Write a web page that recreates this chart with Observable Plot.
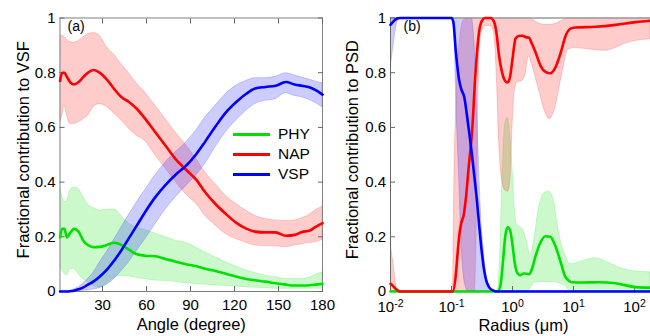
<!DOCTYPE html>
<html>
<head>
<meta charset="utf-8">
<script src="https://cdn.jsdelivr.net/npm/d3@7"></script>
<script src="https://cdn.jsdelivr.net/npm/@observablehq/plot@0.6"></script>
<style>
  html, body { margin: 0; padding: 0; background: #fff; }
  #wrap { position: relative; width: 650px; height: 336px; overflow: hidden; background: #fff; font-family: "Liberation Sans", Arial, sans-serif; }
  #pa { position: absolute; left: 0; top: 0; }
  #pb { position: absolute; left: 330px; top: 0; }
  #legend { position: absolute; left: 233px; top: 124px; font-size: 15.5px; color: #000; }
  .row { display: flex; align-items: center; height: 20px; }
  .sw { width: 37px; height: 0; border-top: 3px solid; margin-right: 8px; }
</style>
</head>
<body>
<div id="wrap"><div id="pb"></div><div id="pa"></div><div id="legend"></div></div>
<script>
// ---------- shared ----------
const seriesNames = ["PHY", "NAP", "VSP"];
const seriesColors = ["#00e000", "#ff0000", "#0000ff"];
const yTicks = [0, 0.2, 0.4, 0.6, 0.8, 1];
const angleTicks = [30, 60, 90, 120, 150, 180];
const radiusTicks = [0.01, 0.1, 1, 10, 100];
const radiusMax = 182.8;
const panelLabels = ["(a)", "(b)"];
const xLabelA = "Angle (degree)";
const yLabelA = "Fractional contribution to VSF";
const xLabelB = "Radius (\u03bcm)";
const yLabelB = "Fractional contribution to PSD";

// ---------- panel (a): VSF vs angle ----------
const angle = [1, 2.5, 4, 5.7, 8, 10.5, 13.5, 17, 20, 24, 28, 33, 38, 43, 48, 53, 59, 66, 73, 80, 87, 94, 100, 107, 114, 121, 128, 134, 141, 148, 155, 161, 166, 171, 175, 180];
const phyMeanA = [0.198, 0.229, 0.229, 0.198, 0.215, 0.229, 0.22, 0.185, 0.17, 0.162, 0.163, 0.17, 0.178, 0.17, 0.153, 0.137, 0.131, 0.129, 0.119, 0.109, 0.1, 0.092, 0.083, 0.075, 0.065, 0.055, 0.046, 0.041, 0.036, 0.03, 0.025, 0.022, 0.022, 0.023, 0.025, 0.028];
const phyLoA = [0.085, 0.08, 0.065, 0.06, 0.08, 0.083, 0.065, 0.045, 0.034, 0.02, 0.015, 0.03, 0.05, 0.058, 0.055, 0.05, 0.045, 0.04, 0.038, 0.035, 0.03, 0.027, 0.025, 0.022, 0.02, 0.018, 0.015, 0.014, 0.012, 0.01, 0.01, 0.01, 0.01, 0.01, 0.01, 0.01];
const phyHiA = [0.38, 0.35, 0.326, 0.33, 0.37, 0.38, 0.375, 0.345, 0.318, 0.305, 0.296, 0.3, 0.3, 0.275, 0.248, 0.235, 0.225, 0.212, 0.198, 0.186, 0.178, 0.16, 0.143, 0.125, 0.107, 0.092, 0.077, 0.068, 0.058, 0.052, 0.046, 0.046, 0.046, 0.05, 0.06, 0.07];
const napMeanA = [0.77, 0.8, 0.8, 0.785, 0.765, 0.757, 0.765, 0.785, 0.8, 0.81, 0.8, 0.775, 0.74, 0.71, 0.693, 0.67, 0.632, 0.582, 0.533, 0.483, 0.445, 0.408, 0.363, 0.32, 0.284, 0.252, 0.23, 0.219, 0.216, 0.216, 0.204, 0.207, 0.218, 0.222, 0.235, 0.25];
const napLoA = [0.618, 0.64, 0.68, 0.645, 0.612, 0.612, 0.618, 0.63, 0.642, 0.675, 0.685, 0.675, 0.65, 0.625, 0.595, 0.57, 0.55, 0.498, 0.45, 0.4, 0.355, 0.32, 0.277, 0.241, 0.21, 0.192, 0.178, 0.168, 0.166, 0.165, 0.162, 0.168, 0.173, 0.177, 0.18, 0.188];
const napHiA = [0.93, 0.935, 0.93, 0.92, 0.912, 0.91, 0.915, 0.93, 0.94, 0.945, 0.935, 0.893, 0.865, 0.83, 0.798, 0.762, 0.728, 0.679, 0.63, 0.58, 0.535, 0.484, 0.435, 0.393, 0.35, 0.32, 0.295, 0.277, 0.265, 0.26, 0.258, 0.26, 0.268, 0.28, 0.296, 0.31];
const vspMeanA = [0, 0, 0, 0, 0.001, 0.003, 0.008, 0.015, 0.025, 0.037, 0.054, 0.08, 0.113, 0.152, 0.195, 0.238, 0.29, 0.345, 0.39, 0.428, 0.46, 0.503, 0.548, 0.603, 0.654, 0.692, 0.723, 0.742, 0.748, 0.752, 0.766, 0.757, 0.752, 0.747, 0.737, 0.72];
const vspLoA = [0, 0, 0, 0, 0, 0, 0.001, 0.003, 0.004, 0.007, 0.012, 0.025, 0.045, 0.075, 0.107, 0.145, 0.19, 0.245, 0.3, 0.345, 0.385, 0.425, 0.466, 0.527, 0.581, 0.624, 0.661, 0.685, 0.697, 0.703, 0.725, 0.715, 0.71, 0.7, 0.69, 0.673];
const vspHiA = [0, 0, 0, 0, 0.003, 0.008, 0.015, 0.03, 0.045, 0.07, 0.105, 0.145, 0.19, 0.235, 0.28, 0.323, 0.37, 0.425, 0.472, 0.51, 0.545, 0.59, 0.636, 0.679, 0.721, 0.752, 0.77, 0.78, 0.78, 0.785, 0.798, 0.79, 0.782, 0.775, 0.768, 0.762];

// ---------- panel (b): PSD vs radius (um) ----------
const phyRadius = [0.01, 0.5623, 0.631, 0.6918, 0.7586, 0.8318, 0.912, 1, 1.096, 1.202, 1.349, 1.549, 1.862, 2.089, 2.399, 2.884, 3.467, 4.169, 5.012, 6.166, 7.413, 9.55, 13.8, 25.7, 48.98, 104.7, 182.8];
const phyMeanB = [0, 0, 0.02, 0.1, 0.2, 0.235, 0.225, 0.17, 0.1, 0.068, 0.06, 0.066, 0.063, 0.083, 0.131, 0.18, 0.202, 0.2, 0.168, 0.107, 0.052, 0.034, 0.033, 0.034, 0.03, 0.016, 0.014];
const phyBandRadius = [0.01, 0.5754, 0.631, 0.6918, 0.7586, 0.8318, 0.912, 1, 1.096, 1.202, 1.445, 1.738, 1.972, 2.239, 2.692, 3.467, 3.981, 4.786, 5.754, 7.413, 8.913, 13.8, 22.91, 38.02, 63.1, 104.7, 182.8];
const phyLoB = [0, 0, 0, 0, 0, 0, 0, 0, 0, 0, 0, 0, 0.01, 0.03, 0.034, 0.034, 0.034, 0.034, 0.03, 0.02, 0, 0, 0, 0, 0, 0, 0];
const phyHiB = [0, 0, 0.15, 0.45, 0.61, 0.635, 0.58, 0.45, 0.3, 0.24, 0.23, 0.18, 0.131, 0.18, 0.302, 0.362, 0.365, 0.33, 0.217, 0.131, 0.1, 0.11, 0.122, 0.104, 0.083, 0.073, 0.07];

const napRadius = [0.01, 0.01122, 0.01259, 0.01413, 0.1047, 0.1175, 0.1259, 0.1349, 0.1445, 0.1585, 0.1738, 0.1905, 0.2188, 0.2455, 0.2818, 0.3162, 0.3548, 0.4365, 0.5012, 0.5495, 0.6026, 0.6761, 0.7586, 0.8318, 0.912, 1, 1.122, 1.259, 1.445, 1.66, 1.862, 2.089, 2.399, 2.884, 3.467, 4.169, 5.012, 6.166, 7.413, 8.913, 10.72, 22.91, 48.98, 104.7, 182.8];
const napMeanB = [0.028, 0.018, 0.007, 0, 0, 0.06, 0.14, 0.21, 0.25, 0.28, 0.35, 0.45, 0.594, 0.788, 0.946, 0.99, 1, 1, 0.985, 0.94, 0.861, 0.8, 0.77, 0.764, 0.785, 0.85, 0.925, 0.934, 0.935, 0.93, 0.928, 0.905, 0.873, 0.825, 0.803, 0.798, 0.818, 0.873, 0.934, 0.961, 0.965, 0.968, 0.975, 0.985, 0.99];
const napBandRadius = [0.01, 0.01122, 0.01318, 0.1047, 0.1122, 0.123, 0.138, 0.1585, 0.182, 0.2399, 0.257, 0.2754, 0.302, 0.3548, 0.4467, 0.5012, 0.5495, 0.6026, 0.6607, 0.7586, 0.8511, 0.9333, 1, 1.072, 1.202, 1.445, 1.622, 1.862, 2.089, 2.692, 3.467, 4.074, 5.012, 6.457, 8.318, 10.72, 17.78, 33.88, 48.98, 79.43, 182.8];
const napLoB = [0, 0, 0, 0, 0, 0, 0, 0, 0, 0, 0.2, 0.7, 0.93, 0.97, 0.97, 0.94, 0.8, 0.55, 0.42, 0.37, 0.365, 0.42, 0.6, 0.72, 0.764, 0.77, 0.79, 0.86, 0.83, 0.74, 0.654, 0.63, 0.67, 0.79, 0.885, 0.89, 0.885, 0.88, 0.89, 0.91, 0.922];
const napHiB = [0.18, 0.1, 0, 0, 0.45, 0.75, 0.92, 0.99, 1, 1, 1, 1, 1, 1, 1, 1, 1, 1, 1, 1, 1, 1, 1, 1, 1, 1, 1, 1, 0.995, 0.98, 0.975, 0.975, 0.978, 0.99, 1, 1, 1, 1, 1, 1, 1];

const vspRadius = [0.01, 0.01175, 0.01413, 0.1, 0.1072, 0.1175, 0.1318, 0.1445, 0.1622, 0.1778, 0.1995, 0.2188, 0.2399, 0.263, 0.2818, 0.302, 0.3388, 0.3715, 0.4074, 0.4677, 0.5623, 182.8];
const vspMeanB = [0.975, 0.993, 1, 1, 0.985, 0.88, 0.78, 0.74, 0.71, 0.65, 0.565, 0.49, 0.41, 0.326, 0.25, 0.18, 0.085, 0.04, 0.018, 0.005, 0, 0];
const vspBandRadius = [0.01, 0.01122, 0.01318, 0.01413, 0.1072, 0.1122, 0.1175, 0.1318, 0.1479, 0.166, 0.1905, 0.2138, 0.2399, 0.2692, 0.302, 0.3388, 0.3802, 0.4365, 0.5012, 182.8];
const vspLoB = [0.81, 0.9, 0.99, 1, 1, 0.95, 0.76, 0.45, 0.15, 0.03, 0, 0, 0, 0, 0, 0, 0, 0, 0, 0];
const vspHiB = [1, 1, 1, 1, 1, 1, 1, 1, 1, 1, 1, 1, 0.9, 0.6, 0.3, 0.15, 0.05, 0.01, 0, 0];

// ---------- tables ----------
const tableA = angle.map((a, i) => ({
  angle: a,
  PHY: {m: phyMeanA[i], lo: phyLoA[i], hi: phyHiA[i]},
  NAP: {m: napMeanA[i], lo: napLoA[i], hi: napHiA[i]},
  VSP: {m: vspMeanA[i], lo: vspLoA[i], hi: vspHiA[i]}
}));
const lineB = {
  PHY: phyRadius.map((r, i) => ({r, v: phyMeanB[i]})),
  NAP: napRadius.map((r, i) => ({r, v: napMeanB[i]})),
  VSP: vspRadius.map((r, i) => ({r, v: vspMeanB[i]}))
};
const bandB = {
  PHY: phyBandRadius.map((r, i) => ({r, lo: phyLoB[i], hi: phyHiB[i]})),
  NAP: napBandRadius.map((r, i) => ({r, lo: napLoB[i], hi: napHiB[i]})),
  VSP: vspBandRadius.map((r, i) => ({r, lo: vspLoB[i], hi: vspHiB[i]}))
};

const fontFamily = '"Liberation Sans", Arial, Helvetica, sans-serif';
const styleA = {fontFamily, fontSize: "15px", color: "#000", background: "transparent", overflow: "visible"};
const styleB = {fontFamily, fontSize: "15px", color: "#000", background: "transparent", overflow: "visible"};
const curve = "monotone-x";

const bandsA = seriesNames.map((s, k) => Plot.areaY(tableA, {
  x: "angle", y1: d => d[s].lo, y2: d => d[s].hi, curve,
  fill: seriesColors[k], fillOpacity: 0.2,
  stroke: seriesColors[k], strokeOpacity: 0.22, strokeWidth: 0.8, clip: true
}));
const linesA = seriesNames.map((s, k) => Plot.line(tableA, {
  x: "angle", y: d => d[s].m, curve, stroke: seriesColors[k], strokeWidth: 2.6
}));

const chartA = Plot.plot({
  width: 330, height: 336,
  marginLeft: 59.5, marginRight: 8, marginTop: 17.5, marginBottom: 45,
  style: styleA,
  x: {domain: [1, 180]},
  y: {domain: [0, 1]},
  marks: [
    ...bandsA,
    Plot.frame({stroke: "#808080"}),
    Plot.axisX({ticks: angleTicks, tickSize: -5, tickPadding: 13, tickFormat: d => String(d), label: null, stroke: "#666", fontSize: 15}),
    Plot.axisX({anchor: "top", ticks: angleTicks, tickSize: -5, tickFormat: () => "", label: null, stroke: "#666"}),
    Plot.axisY({ticks: yTicks, tickSize: -5, tickPadding: 9.5, tickFormat: d => String(d), label: null, stroke: "#666", fontSize: 15}),
    Plot.axisY({anchor: "right", ticks: yTicks, tickSize: -5, tickFormat: () => "", label: null, stroke: "#666"}),
    ...linesA,
    Plot.text([panelLabels[0]], {text: d => d, frameAnchor: "top-left", dx: 7.5, dy: 3, fontSize: 14}),
    Plot.text([xLabelA], {text: d => d, frameAnchor: "bottom", dy: 33, lineAnchor: "middle", textAnchor: "middle", fontSize: 16.5}),
    Plot.text([yLabelA], {text: d => d, frameAnchor: "left", rotate: -90, dx: -36.5, dy: -5, textAnchor: "middle", lineAnchor: "middle", fontSize: 16.5})
  ]
});

const bandsB = seriesNames.map((s, k) => Plot.areaY(bandB[s], {
  x: "r", y1: "lo", y2: "hi", curve,
  fill: seriesColors[k], fillOpacity: 0.2,
  stroke: seriesColors[k], strokeOpacity: 0.22, strokeWidth: 0.8, clip: true
}));
const linesB = seriesNames.map((s, k) => Plot.line(lineB[s], {
  x: "r", y: "v", curve, stroke: seriesColors[k], strokeWidth: 2.6
}));

const chartB = Plot.plot({
  width: 320, height: 336,
  marginLeft: 60, marginRight: 0, marginTop: 17.5, marginBottom: 45,
  style: styleB,
  x: {type: "log", domain: [0.01, radiusMax]},
  y: {domain: [0, 1]},
  marks: [
    ...bandsB,
    Plot.ruleY([1], {stroke: "#9a9a9a", strokeWidth: 1.6}),
    Plot.ruleY([0], {stroke: "#666"}),
    Plot.ruleX([0.01], {stroke: "#666"}),
    Plot.axisX({ticks: radiusTicks, tickSize: -5, tickPadding: 15, tickFormat: d => "10^" + Math.round(Math.log10(d)), label: null, stroke: "#666", fontSize: 15}),
    Plot.axisY({ticks: yTicks, tickSize: -5, tickPadding: 9.5, tickFormat: d => String(d), label: null, stroke: "#666", fontSize: 15}),
    ...linesB,
    Plot.text([panelLabels[1]], {text: d => d, frameAnchor: "top-left", dx: 13, dy: 3, fontSize: 14}),
    Plot.text([xLabelB], {text: d => d, frameAnchor: "bottom", dx: 3, dy: 34.5, lineAnchor: "middle", textAnchor: "middle", fontSize: 16.5}),
    Plot.text([yLabelB], {text: d => d, frameAnchor: "left", rotate: -90, dx: -37.3, dy: -5, textAnchor: "middle", lineAnchor: "middle", fontSize: 16.5})
  ]
});

// superscript exponents on the log axis
const NS = "http://www.w3.org/2000/svg";
chartB.querySelectorAll('g[aria-label="x-axis tick label"] text').forEach(t => {
  const parts = t.textContent.split("^");
  if (parts.length < 2) return;
  t.textContent = "";
  const base = document.createElementNS(NS, "tspan");
  base.textContent = parts[0];
  const sup = document.createElementNS(NS, "tspan");
  sup.setAttribute("dy", "-0.5em");
  sup.setAttribute("font-size", "0.7em");
  sup.textContent = parts[1];
  t.append(base, sup);
});

document.getElementById("pa").appendChild(chartA);
document.getElementById("pb").appendChild(chartB);

// legend
const legend = document.getElementById("legend");
seriesNames.forEach((s, k) => {
  const row = document.createElement("div");
  row.className = "row";
  const sw = document.createElement("div");
  sw.className = "sw";
  sw.style.borderTopColor = seriesColors[k];
  const lab = document.createElement("span");
  lab.textContent = s;
  row.append(sw, lab);
  legend.appendChild(row);
});
</script>
</body>
</html>
